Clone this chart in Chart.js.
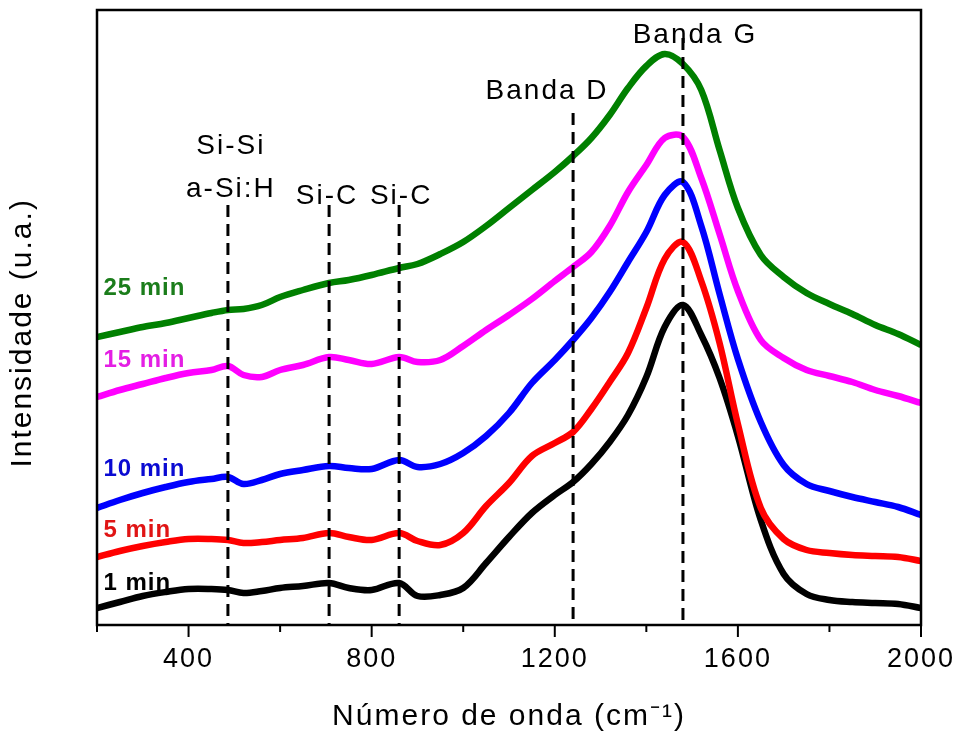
<!DOCTYPE html>
<html>
<head>
<meta charset="utf-8">
<title>Raman</title>
<script src="https://cdn.jsdelivr.net/npm/chart.js@4.4.0/dist/chart.umd.min.js"></script>
<style>
  html, body { margin: 0; padding: 0; background: #fff; }
  #wrap { width: 961px; height: 735px; }
</style>
</head>
<body>
<div id="wrap"><canvas id="raman"></canvas></div>
<script>
// wavenumber (cm-1) sample points
var wavenumber = [200, 250, 300, 350, 400, 450, 486, 520, 560, 600, 650, 707, 750, 800, 860, 900, 950, 1000, 1050, 1100,
                  1150, 1200, 1240, 1280, 1320, 1360, 1400, 1440, 1480, 1520, 1560, 1600, 1650, 1700, 1750, 1800, 1850, 1900, 1950, 2000];

// intensities (u.a., spectra stacked with offsets as in the figure)
var min25 = [288, 293, 298, 302, 307, 312, 315, 316, 320, 328, 335, 342, 345, 350, 357, 361, 371, 383, 399, 417,
             435, 453, 469, 487, 510, 537, 559, 571, 561, 535, 475, 417, 370, 348, 332, 321, 311, 300, 291, 280];
var min15 = [228, 235, 241, 247, 252, 255, 259, 250, 248, 255, 260, 268, 265, 261, 268, 263, 265, 279, 295, 310,
             326, 344, 358, 373, 399, 433, 460, 487, 488, 447, 391, 334, 285, 267, 255, 249, 243, 235, 229, 222];
var min10 = [117, 125, 132, 138, 143, 146, 148, 141, 145, 151, 155, 159, 157, 156, 165, 158, 161, 172, 189, 212,
             242, 265, 285, 307, 333, 363, 393, 430, 443, 399, 331, 266, 203, 160, 141, 134, 128, 123, 118, 110];
var min5 = [68, 74, 79, 83, 86, 86, 85, 82, 83, 85, 87, 92, 88, 85, 92, 84, 80, 92, 119, 142,
            169, 182, 193, 216, 243, 272, 317, 366, 383, 344, 282, 201, 117, 86, 75, 72, 70, 69, 68, 64];
var min1 = [17, 23, 29, 33, 36, 36, 35, 32, 34, 37, 39, 42, 37, 35, 42, 29, 30, 37, 62, 88,
            112, 130, 143, 161, 183, 210, 248, 298, 320, 290, 247, 189, 105, 51, 31, 25, 23, 22, 21, 17];

var seriesNames = ["25 min", "15 min", "10 min", "5 min", "1 min"];
var seriesData = [min25, min15, min10, min5, min1];
var lineColors = ["#008000", "#ff00ff", "#0000ff", "#ff0000", "#000000"];
var labelColors = ["#1b7d1b", "#e41ee4", "#0a0ad2", "#e01414", "#000000"];

// band markers
var bandPositions = [486, 707, 860, 1240, 1480];
var bandNames = [["Si-Si", "a-Si:H"], ["Si-C"], ["Si-C"], ["Banda D"], ["Banda G"]];

var tickLabels = [400, 800, 1200, 1600, 2000];

var FONT = "'Liberation Sans', Arial, sans-serif";

var datasets = [];
for (var i = 0; i < seriesNames.length; i++) {
  var pts = [];
  for (var j = 0; j < wavenumber.length; j++) {
    pts.push({ x: wavenumber[j], y: seriesData[i][j] });
  }
  datasets.push({
    label: seriesNames[i],
    data: pts,
    borderColor: lineColors[i],
    borderWidth: 6.5,
    pointRadius: 0,
    tension: 0.35,
    fill: false
  });
}

var overlay = {
  id: 'overlay',
  beforeDraw: function(chart) {
    // the figure's lettering is set a bit loose
    chart.ctx.letterSpacing = "2px";
  },
  afterDatasetsDraw: function(chart) {
    var ctx = chart.ctx;
    var xs = chart.scales.x, ys = chart.scales.y, area = chart.chartArea;
    ctx.save();

    // dashed band lines, top of each given in y units
    var lineTop = [420, 420, 420, 512, 587];
    ctx.strokeStyle = "#000";
    ctx.lineWidth = 3;
    ctx.setLineDash([12, 7]);
    for (var i = 0; i < bandPositions.length; i++) {
      var x = xs.getPixelForValue(bandPositions[i]);
      ctx.beginPath();
      ctx.moveTo(x, ys.getPixelForValue(lineTop[i]));
      ctx.lineTo(x, area.bottom);
      ctx.stroke();
    }
    ctx.setLineDash([]);

    // band names
    var nameY = [[479, 436], [429], [429], [534], [590]];
    var nameShift = [3, -2, 2, -26, 12];
    ctx.fillStyle = "#000";
    ctx.letterSpacing = "2px";
    ctx.font = "28px " + FONT;
    ctx.textAlign = "center";
    ctx.textBaseline = "middle";
    for (i = 0; i < bandNames.length; i++) {
      var bx = xs.getPixelForValue(bandPositions[i]) + nameShift[i];
      for (var k = 0; k < bandNames[i].length; k++) {
        ctx.fillText(bandNames[i][k], bx, ys.getPixelForValue(nameY[i][k]));
      }
    }

    // series names at the left
    var labelY = [337, 265, 156, 95, 42];
    ctx.letterSpacing = "1px";
    ctx.font = "bold 24px " + FONT;
    ctx.textAlign = "left";
    for (i = 0; i < seriesNames.length; i++) {
      ctx.fillStyle = labelColors[i];
      ctx.fillText(seriesNames[i], xs.getPixelForValue(214), ys.getPixelForValue(labelY[i]));
    }
    ctx.restore();
  },
  afterDraw: function(chart) {
    var ctx = chart.ctx;
    var xs = chart.scales.x, area = chart.chartArea;
    ctx.save();
    ctx.strokeStyle = "#000";
    ctx.lineWidth = 2.5;
    ctx.strokeRect(area.left, area.top, area.right - area.left, area.bottom - area.top);
    // outward ticks, long ones where there is a label
    ctx.lineWidth = 2;
    xs.ticks.forEach(function(t) {
      var x = xs.getPixelForValue(t.value);
      var len = tickLabels.indexOf(t.value) >= 0 ? 12 : 7;
      ctx.beginPath();
      ctx.moveTo(x, area.bottom);
      ctx.lineTo(x, area.bottom + len);
      ctx.stroke();
    });
    // y axis title, sits a little below the middle of the axis
    ctx.translate(23, area.top + (area.bottom - area.top) * 0.525);
    ctx.rotate(-Math.PI / 2);
    ctx.letterSpacing = "2px";
    ctx.font = "30px " + FONT;
    ctx.fillStyle = "#000";
    ctx.textAlign = "center";
    ctx.textBaseline = "middle";
    ctx.fillText("Intensidade (u.a.)", 0, 0);
    ctx.restore();
  }
};

new Chart(document.getElementById("raman"), {
  type: 'line',
  data: { datasets: datasets },
  options: {
    responsive: true,
    maintainAspectRatio: false,
    animation: false,
    layout: { padding: { left: 0, right: 40, top: 10, bottom: 0 } },
    plugins: {
      legend: { display: false },
      tooltip: { enabled: false }
    },
    scales: {
      x: {
        type: 'linear',
        min: 200,
        max: 2000,
        border: { display: false },
        grid: { display: false, drawTicks: false },
        ticks: {
          stepSize: 200,
          padding: 18,
          maxRotation: 0,
          autoSkip: false,
          color: "#000",
          font: { family: FONT, size: 27 },
          callback: function(v) { return tickLabels.indexOf(v) >= 0 ? String(v) : ''; }
        },
        title: {
          display: true,
          text: 'Número de onda (cm⁻¹)',
          color: "#000",
          font: { family: FONT, size: 30 },
          padding: { top: 0, bottom: 0 }
        },
        afterFit: function(scale) {
          scale.height = 110;
          scale.paddingLeft = 0;
          scale.paddingRight = 0;
        }
      },
      y: {
        min: 0,
        max: 615,
        border: { display: false },
        grid: { display: false, drawTicks: false },
        ticks: { display: false },
        title: { display: false },
        afterFit: function(scale) { scale.width = 97; }
      }
    }
  },
  plugins: [overlay]
});
</script>
</body>
</html>
